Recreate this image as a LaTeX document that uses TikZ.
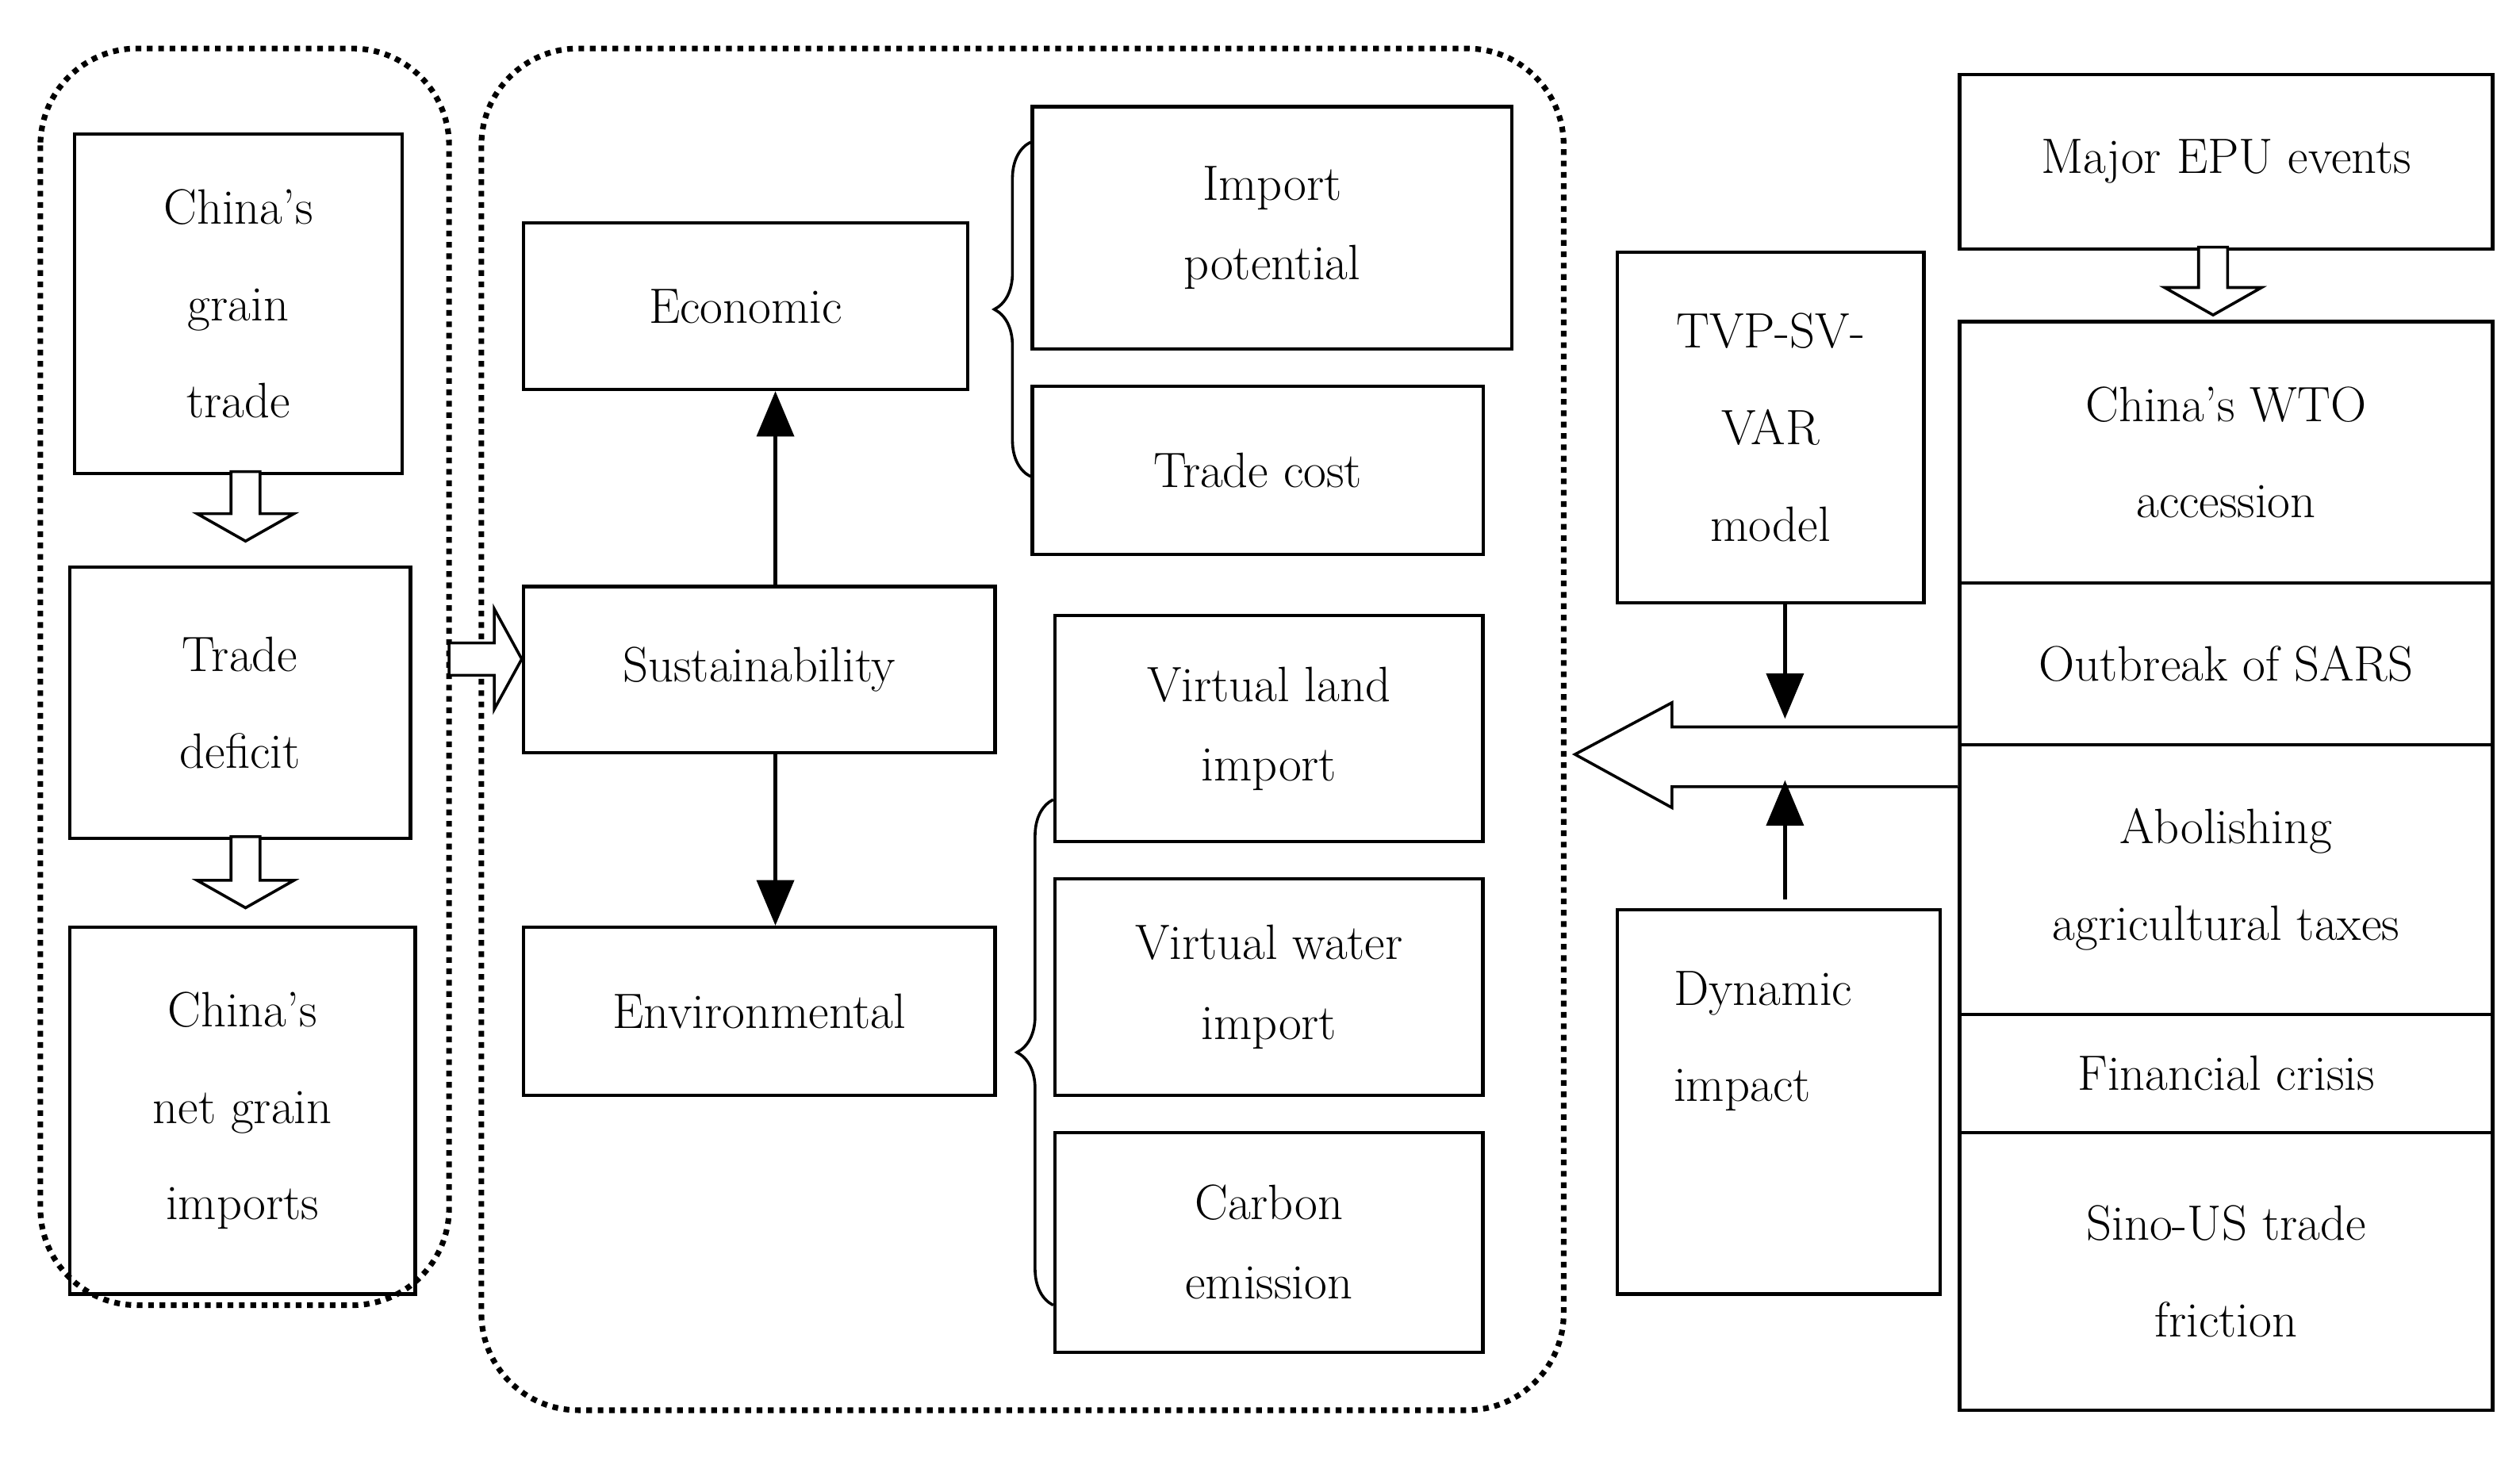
\documentclass[tikz,border=0pt]{standalone}
\usetikzlibrary{decorations.pathreplacing,arrows.meta}
\begin{document}
\begin{tikzpicture}[x=0.02cm,y=-0.02cm,
  bx/.style={draw,line width=1.2pt,inner sep=0pt,align=center,font=\fontsize{17.5}{34}\selectfont},
  dot/.style={draw,line width=2pt,dotted,rounded corners=1.2cm},
  hol/.style={draw,line width=1pt,fill=white},
  ar/.style={line width=1.5pt,-{Triangle[length=16pt,width=13pt]}},
  br/.style={draw,line width=1pt,decorate,decoration={brace,amplitude=0.45cm}}]
\useasboundingbox (0,0) rectangle (1560,904);
\fill[white] (0,0) rectangle (1560,904);
\draw[dot] (25,30) rectangle (278,808);
\draw[dot] (298,30) rectangle (968,873);
\newcommand{\bxat}[6]{\node[bx,minimum width={(#4-#2)*0.02cm},minimum height={(#5-#3)*0.02cm},anchor=north west] (#1) at (#2,#3) {#6};}
\bxat{cg}{45}{82}{248}{292}{China's\\grain\\trade}
\bxat{td}{42}{350}{253}{518}{Trade\\deficit}
\bxat{cn}{42}{573}{256}{800}{China's\\net grain\\imports}
\bxat{ec}{323}{137}{598}{240}{Economic}
\bxat{su}{323}{362}{615}{465}{Sustainability}
\bxat{en}{323}{573}{615}{677}{Environmental}
\node[bx,anchor=north west,minimum width=5.94cm,minimum height=3cm,font=\fontsize{17.5}{28}\selectfont] (ip) at (638,65) {Import\\potential};
\bxat{tc}{638}{238}{917}{342}{Trade cost}
\node[bx,anchor=north west,minimum width=5.3cm,minimum height=2.8cm,font=\fontsize{17.5}{28}\selectfont] (vl) at (652,380) {Virtual land\\import};
\node[bx,anchor=north west,minimum width=5.3cm,minimum height=2.68cm,font=\fontsize{17.5}{28}\selectfont] (vw) at (652,543) {Virtual water\\import};
\node[bx,anchor=north west,minimum width=5.3cm,minimum height=2.72cm,font=\fontsize{17.5}{28}\selectfont] (ce) at (652,700) {Carbon\\emission};
\bxat{tv}{1000}{155}{1190}{372}{TVP-SV-\\VAR\\model}
\bxat{di}{1000}{562}{1200}{800}{}
\node[align=left,anchor=north west,font=\fontsize{17.5}{34}\selectfont] at (1030,595) {Dynamic\\impact};
\bxat{me}{1212}{45}{1542}{153}{Major EPU events}
\bxat{wt}{1212}{198}{1542}{360}{China's WTO\\accession}
\bxat{sa}{1212}{360}{1542}{460}{Outbreak of SARS}
\bxat{ab}{1212}{460}{1542}{627}{Abolishing\\agricultural taxes}
\bxat{fc}{1212}{627}{1542}{700}{Financial crisis}
\bxat{si}{1212}{700}{1542}{872}{Sino-US trade\\friction}
% hollow arrows
\draw[hol] (143,292)--(161,292)--(161,318)--(182,318)--(152,335)--(122,318)--(143,318)--cycle;
\draw[hol] (143,518)--(161,518)--(161,545)--(182,545)--(152,562)--(122,545)--(143,545)--cycle;
\draw[hol] (1361,153)--(1379,153)--(1379,178)--(1400,178)--(1370,195)--(1340,178)--(1361,178)--cycle;
\draw[hol] (278,398)--(306,398)--(306,377)--(323,408)--(306,439)--(306,418)--(278,418)--cycle;
\draw[hol] (1212,450)--(1035,450)--(1035,435)--(975,467)--(1035,500)--(1035,487)--(1212,487);
% arrows
\draw[ar] (su.north -| 480,0) -- (ec.south -| 480,0);
\draw[ar] (su.south -| 480,0) -- (en.north -| 480,0);
\draw[ar] (1105,372) -- (1105,445);
\draw[ar] (1105,557) -- (1105,483);
% braces
\draw[br] (638,295) -- (638,88);
\draw[br] (652,808) -- (652,495);
\end{tikzpicture}
\end{document}
